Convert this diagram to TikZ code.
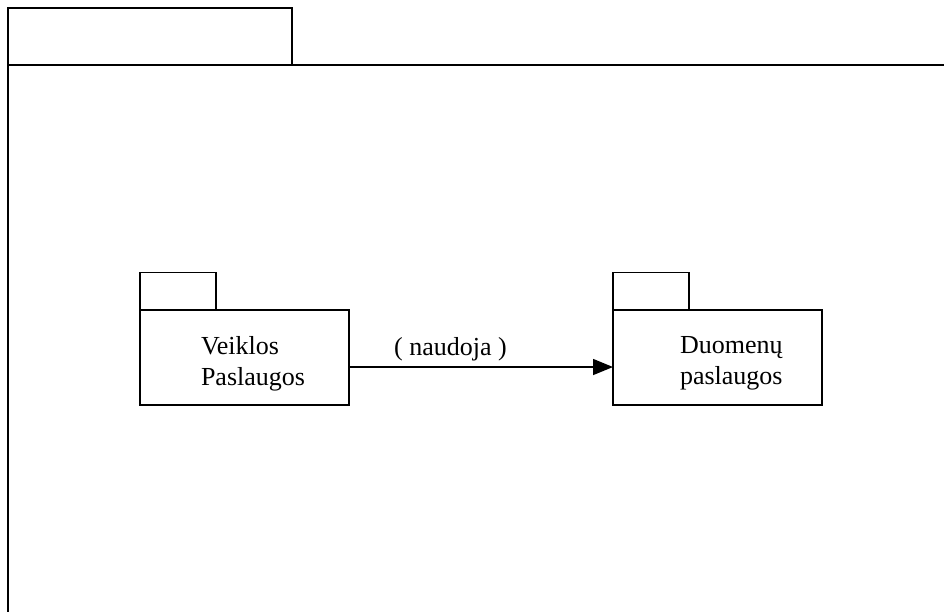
\documentclass[tikz,border=0pt]{standalone}
\usepackage{fontspec}
\setmainfont{Liberation Serif}
\usetikzlibrary{arrows.meta}
\begin{document}
\begin{tikzpicture}[x=0.75pt,y=-0.75pt,
  every node/.style={outer sep=0pt},
  frameline/.style={line width=1.5pt},
  pkgbody/.style={draw,line width=1.1pt,rectangle,minimum width=156.75pt,minimum height=71.25pt,inner sep=0pt},
  pkgtab/.style={draw,line width=1.1pt,rectangle,minimum width=57pt,minimum height=28.125pt,inner sep=0pt,anchor=south west},
  pkgtext/.style={inner sep=0pt,align=left,anchor=west,font=\fontsize{19.5pt}{23.25pt}\selectfont},
  uses/.style={line width=1.1pt,-{Triangle[length=15pt,width=12pt]}}]
\useasboundingbox (0,0) rectangle (944,612);
% enclosing package (its body runs past the page edges)
\node[draw,frameline,rectangle,minimum width=213pt,minimum height=43.125pt,inner sep=0pt,anchor=north west] (outertab) at (8,7.5) {};
\coordinate (outerright) at (944,65);
\coordinate (outerbottom) at (8,612);
\draw[frameline] (outertab.south west) -- (outerright);
\draw[frameline] (outertab.north west) -- (outerbottom);
% business services package
\node[pkgbody] (veikla) at (244.5,357.5) {};
\node[pkgtab] (veiklatab) at (veikla.north west) {};
\node[pkgtext] (veiklatxt) at (201,363.4) {Veiklos\\Paslaugos};
% data services package
\node[pkgbody] (duomenys) at (717.5,357.5) {};
\node[pkgtab] (duomenystab) at (duomenys.north west) {};
\node[pkgtext] (duomenystxt) at (680,363.7) {Duomenų\\paslaugos};
% dependency
\draw[uses] ([yshift=-7.125pt]veikla.east) -- ([yshift=-7.125pt]duomenys.west);
\node[inner sep=0pt,anchor=base,font=\fontsize{19.5pt}{23.25pt}\selectfont] (naudoja) at (450.5,355) {( naudoja )};
\end{tikzpicture}
\end{document}
